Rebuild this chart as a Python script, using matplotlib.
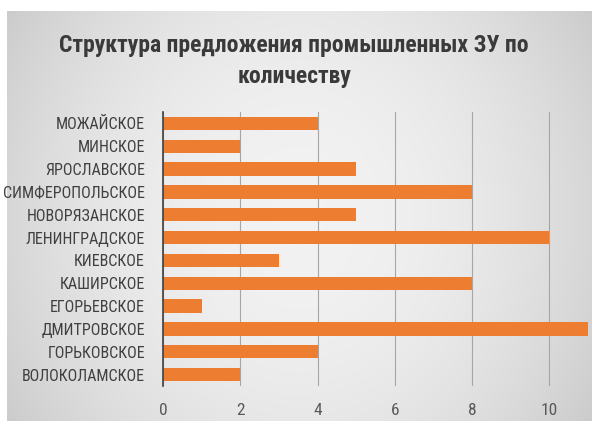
import numpy as np
import matplotlib

matplotlib.use("Agg")
import matplotlib.pyplot as plt  # noqa: E402

plt.rcParams["font.family"] = ["Roboto Condensed", "PT Sans Narrow", "Fira Sans Condensed", "DejaVu Sans"]

# data, top to bottom as in the picture
categories = [
    "МОЖАЙСКОЕ",
    "МИНСКОЕ",
    "ЯРОСЛАВСКОЕ",
    "СИМФЕРОПОЛЬСКОЕ",
    "НОВОРЯЗАНСКОЕ",
    "ЛЕНИНГРАДСКОЕ",
    "КИЕВСКОЕ",
    "КАШИРСКОЕ",
    "ЕГОРЬЕВСКОЕ",
    "ДМИТРОВСКОЕ",
    "ГОРЬКОВСКОЕ",
    "ВОЛОКОЛАМСКОЕ",
]
counts = [4, 2, 5, 8, 5, 10, 3, 8, 1, 11, 4, 2]
x_ticks = [0, 2, 4, 6, 8, 10]
title = "Структура предложения промышленных ЗУ по\nколичеству"

fig = plt.figure(figsize=(5.92, 4.21), dpi=100)

# grey slide-like background, lighter in the middle
bg = fig.add_axes([0, 0, 1, 1], zorder=-10)
xx, yy = np.meshgrid(np.linspace(-1, 1, 300), np.linspace(-1, 1, 220))
shade = 0.95 - 0.12 * (xx ** 2 * 0.9 + yy ** 2 * 0.35)
img = np.dstack([shade] * 3)
bg.imshow(img, extent=[7 / 592, 1, 0, 1 - 11 / 421], aspect="auto", zorder=0)
bg.set_xlim(0, 1)
bg.set_ylim(0, 1)
bg.axis("off")

ax = fig.add_axes([163 / 592, 1 - 386 / 421, 429 / 592, 274 / 421])
ax.patch.set_alpha(0)
y = np.arange(len(categories))
ax.barh(y, counts, height=0.58, color="#ED7D31", zorder=3)
ax.set_ylim(len(categories) - 0.5, -0.5)
ax.set_xlim(0, 11.1)
ax.set_yticks(y)
ax.set_yticklabels(categories, fontsize=11.5, color="#404040")
ax.set_xticks(x_ticks)
ax.set_xticklabels([str(t) for t in x_ticks], fontsize=12.5, color="#595959")
ax.tick_params(axis="both", length=0)
ax.tick_params(axis="x", pad=12)
ax.tick_params(axis="y", pad=13)
ax.xaxis.grid(True, color="#a6a6a6", lw=0.8, zorder=0)
for s in ["top", "right", "bottom"]:
    ax.spines[s].set_visible(False)
ax.spines["left"].set_color("#404040")
ax.spines["left"].set_linewidth(1.2)
ax.spines["left"].set_zorder(4)

fig.text(0.497, 1 - 61 / 421, title, ha="center", va="center", fontsize=17,
         fontweight="bold", color="#3a3a3a", linespacing=1.4)

fig.savefig("out.png", dpi=100)
